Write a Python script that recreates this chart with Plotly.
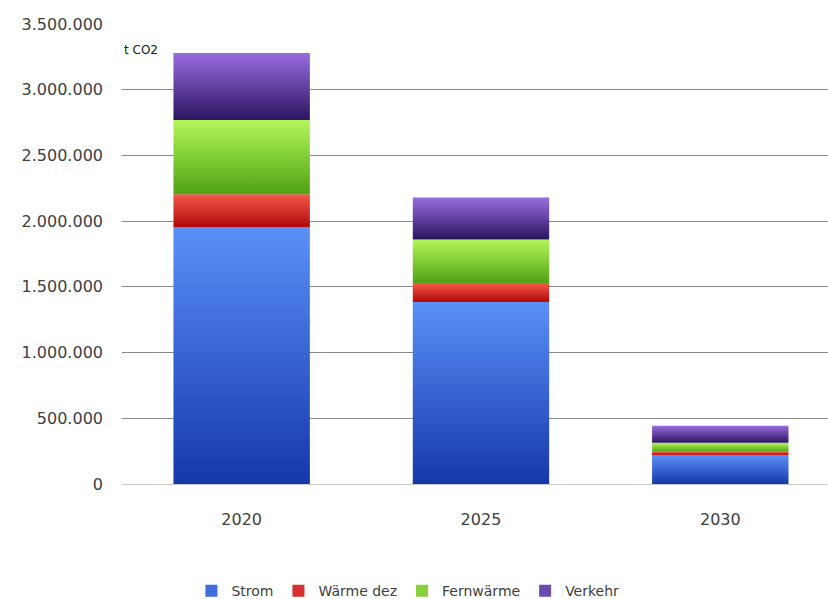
import plotly.graph_objects as go

# Emissions by sector (t CO2)
years = ["2020", "2025", "2030"]
series_names = ["Strom", "Wärme dez", "Fernwärme", "Verkehr"]
strom = [1955000, 1385000, 220000]
waerme_dez = [250000, 145000, 25000]
fernwaerme = [565000, 330000, 68000]
verkehr = [510000, 320000, 130000]

series_values = [strom, waerme_dez, fernwaerme, verkehr]
# (dark bottom, light top) for each series' vertical gradient
gradients = [
    ("#1438a8", "#5b90f8"),
    ("#b00808", "#f45a4a"),
    ("#4fa214", "#b4f65a"),
    ("#2a1560", "#9a6ce0"),
]
legend_colors = ["#3f6fd8", "#d63030", "#8ccf3c", "#6a4cb0"]

bar_width = 0.57
fig = go.Figure()

base = [0] * len(years)
for name, vals, (c_lo, c_hi), lc in zip(series_names, series_values, gradients, legend_colors):
    for j, v in enumerate(vals):
        lo, hi = base[j], base[j] + v
        x0, x1 = j - bar_width / 2, j + bar_width / 2
        fig.add_trace(go.Scatter(
            x=[x0, x1, x1, x0, x0],
            y=[lo, lo, hi, hi, lo],
            mode="lines",
            fill="toself",
            line=dict(width=0, color=lc),
            fillcolor=lc,
            fillgradient=dict(type="vertical", colorscale=[[0, c_lo], [1, c_hi]],
                              start=lo, stop=hi),
            name=name,
            legendgroup=name,
            showlegend=False,
            hoverinfo="skip",
        ))
        base[j] = hi
    # square legend key for the series
    fig.add_trace(go.Bar(x=[None], y=[None], name=name, legendgroup=name,
                         marker=dict(color=lc, line=dict(width=0)), showlegend=True))

fig.add_annotation(
    text="t CO2", xref="paper", yref="paper", x=0.0, y=(484 - 50) / 460,
    xanchor="left", yanchor="middle", showarrow=False,
    font=dict(family="DejaVu Sans", size=12, color="#202020"),
)

fig.update_layout(
    width=828, height=599,
    margin=dict(l=122, r=0, t=24, b=115, autoexpand=False),
    paper_bgcolor="white", plot_bgcolor="white",
    separators=",.",
    font=dict(family="DejaVu Sans", size=15, color="#404040"),
    showlegend=True,
    barmode="overlay",
    legend=dict(orientation="h", x=0.405, xanchor="center", y=-0.233, yanchor="middle",
                font=dict(size=14, color="#404040"), traceorder="normal"),
    xaxis=dict(range=[-0.5, 2.45], tickvals=[0, 1, 2], ticktext=years,
               showgrid=False, zeroline=False, showline=False, ticks="",
               ticklabelstandoff=24, tickfont=dict(size=16)),
    yaxis=dict(range=[0, 3500000], dtick=500000, tickformat=",.0f",
               showgrid=True, gridcolor="#8a8a8a", gridwidth=1.3,
               zeroline=True, zerolinecolor="#c8c8c8", zerolinewidth=1,
               showline=False, ticks="", ticklabelstandoff=18,
               tickfont=dict(size=16)),
)

fig.write_html("out.html")
